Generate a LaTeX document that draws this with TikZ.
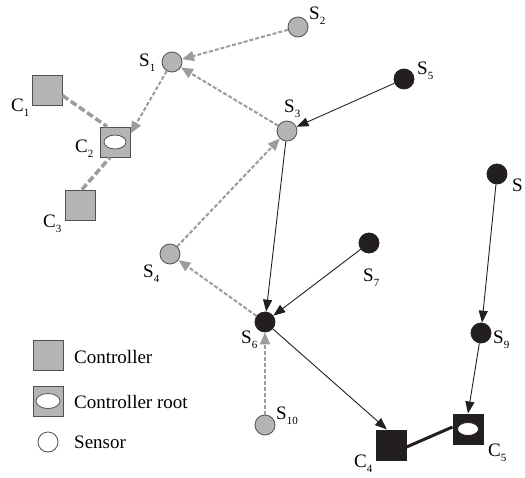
\documentclass[tikz,border=0pt]{standalone}
\usepackage{fontspec}
\setmainfont{Liberation Serif}
\usetikzlibrary{arrows.meta}
\definecolor{nodegray}{HTML}{B4B4B4}
\definecolor{edgegray}{HTML}{9C9C9C}
\definecolor{ink}{HTML}{231F20}
\definecolor{rim}{HTML}{505050}
% label with a lowered small index
\newcommand{\lab}[2]{#1\raisebox{-0.3em}{\fontsize{11}{11}\selectfont #2}}

\begin{document}
\begin{tikzpicture}[x=1pt,y=-1pt,
  sensor/.style={circle, minimum size=20pt, inner sep=0pt, draw=rim, line width=0.8pt, fill=nodegray},
  active/.style={circle, minimum size=20pt, inner sep=0pt, draw=ink, line width=0.8pt, fill=ink},
  ctrl/.style={rectangle, minimum size=30pt, inner sep=0pt, draw=rim, line width=1pt, fill=nodegray},
  ctrlk/.style={rectangle, minimum size=30pt, inner sep=0pt, draw=ink, line width=1pt, fill=ink},
  hole/.style={draw=rim, line width=0.8pt, fill=white},
  lbl/.style={font=\fontsize{19}{19}\selectfont, inner sep=0pt, anchor=base west},
  gdash/.style={draw=edgegray, line width=2pt, dash pattern=on 4pt off 2pt, -{Triangle[length=12pt,width=10pt]}},
  gthick/.style={draw=edgegray, line width=3.5pt, dash pattern=on 7pt off 3pt},
  karrow/.style={draw=ink, line width=0.9pt, -{Triangle[length=12pt,width=9pt]}},
  kthick/.style={draw=ink, line width=3pt}
]
\useasboundingbox (0,0) rectangle (525,477);

% sensors
\node[sensor] (S1) at (172,62) {};
\node[sensor] (S2) at (298,27) {};
\node[sensor] (S3) at (287,131) {};
\node[sensor] (S4) at (170,254) {};
\node[active] (S5) at (404,79) {};
\node[active] (S6) at (265,322) {};
\node[active] (S7) at (369,243) {};
\node[active] (S8) at (497,174) {};
\node[active] (S9) at (481,333) {};
\node[sensor] (S10) at (265,425) {};

% controllers
\node[ctrl] (C1) at (47,90) {};
\node[ctrl] (C2) at (115,142) {};
\node[ctrl] (C3) at (80,205) {};
\node[ctrlk] (C4) at (391,445) {};
\node[ctrlk] (C5) at (468,429) {};
\draw[hole] (C2) ellipse (11 and 7);
\draw[hole, draw=ink] (C5) ellipse (10.5 and 6.5);

% labels
\node[lbl] (lS1) at (139,66) {\lab{S}{1}};
\node[lbl] (lS2) at (309,19) {\lab{S}{2}};
\node[lbl] (lS3) at (284,112) {\lab{S}{3}};
\node[lbl] (lS4) at (143,277) {\lab{S}{4}};
\node[lbl] (lS5) at (417,74) {\lab{S}{5}};
\node[lbl] (lS6) at (241,343) {\lab{S}{6}};
\node[lbl] (lS7) at (363,281) {\lab{S}{7}};
\node[lbl] (lS8) at (512,191) {S};
\node[lbl] (lS9) at (493,343) {\lab{S}{9}};
\node[lbl] (lS10) at (276,419) {\lab{S}{10}};
\node[lbl] (lC1) at (11,111) {\lab{C}{1}};
\node[lbl] (lC2) at (75,152) {\lab{C}{2}};
\node[lbl] (lC3) at (43,227) {\lab{C}{3}};
\node[lbl] (lC4) at (354,467) {\lab{C}{4}};
\node[lbl] (lC5) at (488,456) {\lab{C}{5}};

% grey (dashed) links
\draw[gdash] (S2) -- (S1);
\draw[gdash] (S3) -- (S1);
\draw[gdash] (S1) -- ([yshift=-7pt]C2.north east);
\draw[gdash] (S4) -- (S3);
\draw[gdash] (S6) -- (S4);
\draw[gdash] (S10) -- (S6);
\draw[gthick] ([yshift=10pt]C1.south east) -- ([xshift=-8pt]C2.north);
\draw[gthick] ([xshift=2pt]C3.north) -- ([xshift=-5pt]C2.south);

% black links
\draw[karrow] (S5) -- (S3);
\draw[karrow] (S3) -- (S6);
\draw[karrow] (S7) -- (S6);
\draw[karrow] (S6) -- ([xshift=-4pt]C4.north);
\draw[karrow] (S8) -- (S9);
\draw[karrow] (S9) -- (C5.north);
\draw[kthick] ([yshift=-2pt]C4.east) -- ([yshift=2pt]C5.west);

% legend
\node[ctrl] (L1) at (48,355) {};
\node[ctrl] (L2) at (48,401) {};
\draw[hole] (L2) ellipse (12 and 7.5);
\node[sensor, fill=white] (L3) at (48,442) {};
\node[lbl] (t1) at (74,363) {Controller};
\node[lbl] (t2) at (74,408) {Controller root};
\node[lbl] (t3) at (74,448) {Sensor};
\end{tikzpicture}
\end{document}
